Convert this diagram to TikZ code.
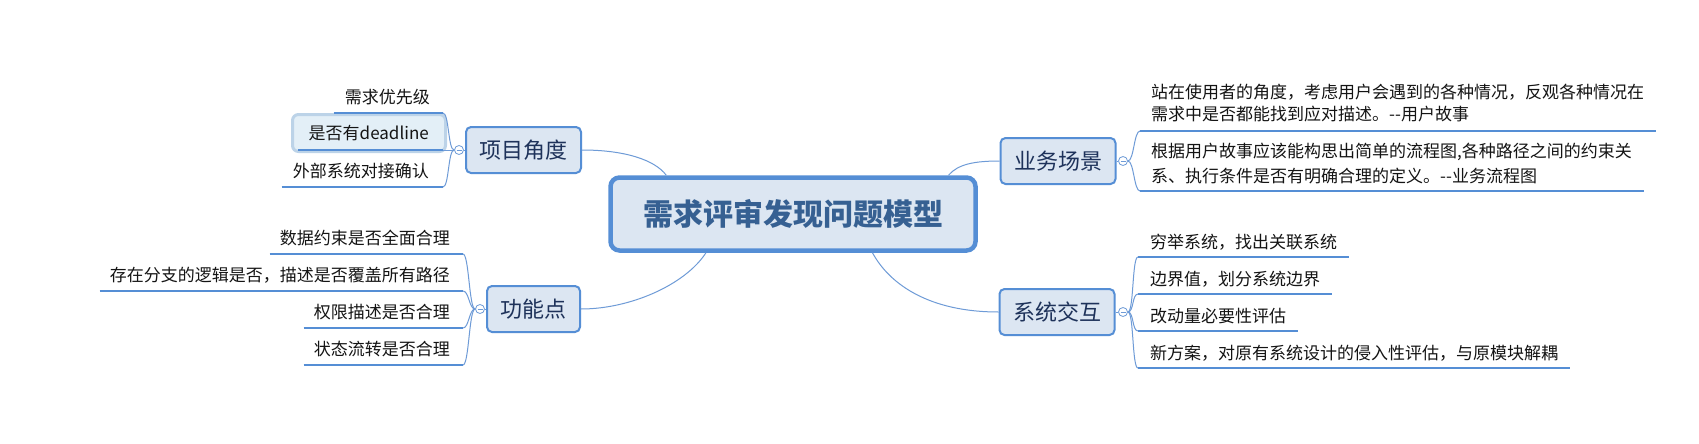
\documentclass[tikz,border=0pt]{standalone}
\usepackage{fontspec}
\newfontfamily\cjk{Noto Sans CJK SC}
\usetikzlibrary{calc}
\definecolor{lineblue}{RGB}{85,142,213}
\definecolor{curveblue}{RGB}{110,155,215}
\definecolor{boxfill}{RGB}{220,230,242}
\definecolor{navy}{RGB}{30,50,90}
\definecolor{ctrtext}{RGB}{54,96,146}
\definecolor{selfill}{RGB}{227,239,247}
\definecolor{selline}{RGB}{188,211,232}
\begin{document}
\begin{tikzpicture}[x=1pt,y=-1pt,
  maintopic/.style={draw=lineblue, fill=boxfill, line width=2pt, rounded corners=5pt, minimum height=46pt, inner sep=0pt, text=navy, font=\cjk\fontsize{22}{26}\selectfont},
  central/.style={draw=lineblue, fill=boxfill, line width=4.5pt, rounded corners=9pt, minimum width=365pt, minimum height=73pt, inner sep=0pt, text=ctrtext, font=\cjk\bfseries\fontsize{30}{36}\selectfont},
  subtext/.style={inner sep=0pt, text=black!92, font=\cjk\fontsize{17}{20}\selectfont},
  uline/.style={draw=lineblue, line width=2.7pt},
  conn/.style={draw=curveblue, line width=1pt},
  brack/.style={draw=curveblue, line width=1pt},
  toggle/.style={circle, draw=curveblue, fill=white, line width=0.8pt, minimum size=9pt, inner sep=0pt,
    path picture={\draw[curveblue, line width=0.8pt] ([xshift=2pt]path picture bounding box.west) -- ([xshift=-2pt]path picture bounding box.east);}},
]
\fill[white] (0,0) rectangle (1699,444);
\useasboundingbox (0,0) rectangle (1699,444);

% selection highlight
\draw[draw=selline, fill=selfill, line width=3pt, rounded corners=6pt] (292.5,114.5) rectangle (445.5,151.5);

% main topics
\node[central] (ctr) at (793,214) {需求评审发现问题模型};
\node[maintopic, minimum width=115pt] (xm) at (523.5,150) {项目角度};
\node[maintopic, minimum width=93pt] (gn) at (533.5,309) {功能点};
\node[maintopic, minimum width=115pt] (yw) at (1058,161) {业务场景};
\node[maintopic, minimum width=115pt] (xt) at (1057,312) {系统交互};

% toggles
\node[toggle] (t1) at (459,150) {};
\node[toggle] (t2) at (480,309) {};
\node[toggle] (t3) at (1123,161) {};
\node[toggle] (t4) at (1123,312) {};

% main connectors
\draw[conn] (ctr.163) .. controls (655,160) and (625,150) .. (xm.east);
\draw[conn] (ctr.204) .. controls (685,285) and (630,309) .. (gn.east);
\draw[conn] (ctr.14) .. controls (958,164) and (975,161) .. (yw.west);
\draw[conn] (ctr.334) .. controls (890,285) and (930,312) .. (xt.west);
\draw[conn] (xm.west) -- (t1.east);
\draw[conn] (gn.west) -- (t2.east);
\draw[conn] (yw.east) -- (t3.west);
\draw[conn] (xt.east) -- (t4.west);

% left top items
\node[subtext, anchor=east] (a1) at (430,97) {需求优先级};
\node[subtext, anchor=east] (a2) at (429,133) {是否有deadline};
\node[subtext, anchor=east] (a3) at (429,171) {外部系统对接确认};
\coordinate (a1e) at (443,113);
\coordinate (a2e) at (443,150);
\coordinate (a3e) at (443,187);
\foreach \n in {a1,a2,a3}{
  \draw[brack] (t1.west) .. controls +(-6,0) and +(6,0) .. (\n e);
  \draw[uline] ([xshift=-11pt]\n.west |- \n e) -- (\n e);
}

% left bottom items
\node[subtext, anchor=east] (f1) at (450,238) {数据约束是否全面合理};
\node[subtext, anchor=east] (f2) at (450,275) {存在分支的逻辑是否，描述是否覆盖所有路径};
\node[subtext, anchor=east] (f3) at (450,312) {权限描述是否合理};
\node[subtext, anchor=east] (f4) at (450,349) {状态流转是否合理};
\coordinate (f1e) at (463,254);
\coordinate (f2e) at (463,291);
\coordinate (f3e) at (463,328);
\coordinate (f4e) at (463,365);
\foreach \n in {f1,f2,f3,f4}{
  \draw[brack] (t2.west) .. controls +(-6,0) and +(6,0) .. (\n e);
  \draw[uline] ([xshift=-10pt]\n.west |- \n e) -- (\n e);
}

% right top items
\node[subtext, anchor=west, align=left, font=\cjk\fontsize{17}{22}\selectfont] (b1) at (1151,103.5)
  {站在使用者的角度，考虑用户会遇到的各种情况，反观各种情况在\\需求中是否都能找到应对描述。-{}-用户故事};
\node[subtext, anchor=west, align=left, font=\cjk\fontsize{17}{25}\selectfont] (b2) at (1151,163.5)
  {根据用户故事应该能构思出简单的流程图,各种路径之间的约束关\\系、执行条件是否有明确合理的定义。-{}-业务流程图};
\coordinate (b1s) at (1140,131);
\coordinate (b2s) at (1140,191);
\foreach \n in {b1,b2}{
  \draw[brack] (t3.east) .. controls +(6,0) and +(-6,0) .. (\n s);
  \draw[uline] (\n s) -- ([xshift=12pt]\n.east |- \n s);
}

% right bottom items
\node[subtext, anchor=west] (s1) at (1150,242) {穷举系统，找出关联系统};
\node[subtext, anchor=west] (s2) at (1150,279) {边界值，划分系统边界};
\node[subtext, anchor=west] (s3) at (1150,316) {改动量必要性评估};
\node[subtext, anchor=west] (s4) at (1150,353) {新方案，对原有系统设计的侵入性评估，与原模块解耦};
\coordinate (s1s) at (1138,257);
\coordinate (s2s) at (1138,294);
\coordinate (s3s) at (1138,331);
\coordinate (s4s) at (1138,368);
\foreach \n in {s1,s2,s3,s4}{
  \draw[brack] (t4.east) .. controls +(6,0) and +(-6,0) .. (\n s);
  \draw[uline] (\n s) -- ([xshift=12pt]\n.east |- \n s);
}
\end{tikzpicture}
\end{document}
